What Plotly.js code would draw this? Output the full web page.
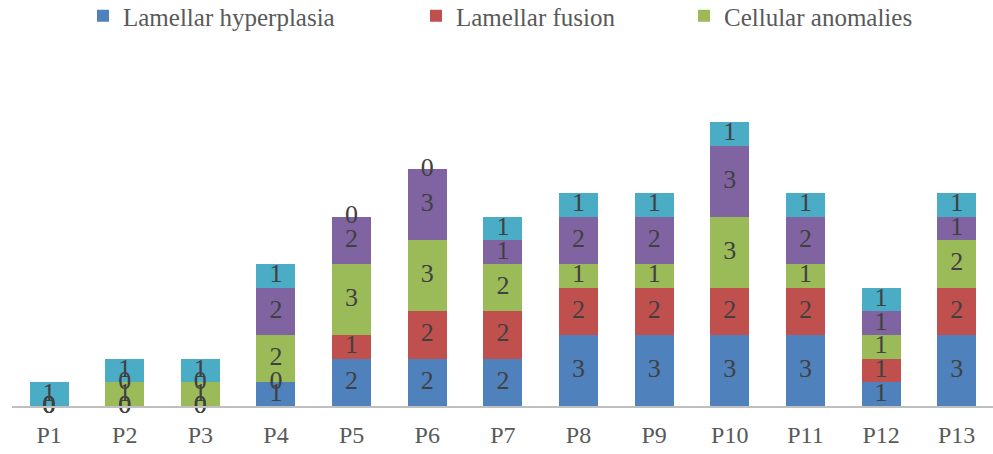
<!DOCTYPE html>
<html>
<head>
<meta charset="utf-8">
<script src="https://cdn.plot.ly/plotly-3.0.1.min.js"></script>
<style>html,body{margin:0;padding:0;background:#fff;}#chart{width:993px;height:454px;}</style>
</head>
<body>
<div id="chart"></div>
<script>
const categories = ["P1","P2","P3","P4","P5","P6","P7","P8","P9","P10","P11","P12","P13"];
const lamellarHyperplasia = [0,0,0,1,2,2,2,3,3,3,3,1,3];
const lamellarFusion      = [0,0,0,0,1,2,2,2,2,2,2,1,2];
const cellularAnomalies   = [0,1,1,2,3,3,2,1,1,3,1,1,2];
const series4             = [0,0,0,2,2,3,1,2,2,3,2,1,1];
const series5             = [1,1,1,1,0,0,1,1,1,1,1,1,1];

const seriesNames = ["Lamellar hyperplasia","Lamellar fusion","Cellular anomalies","Series 4","Series 5"];
const seriesValues = [lamellarHyperplasia, lamellarFusion, cellularAnomalies, series4, series5];
const colors = ["#4F81BD","#C0504D","#9BBB59","#8064A2","#4BACC6"];
const legendIds = ["legend","legend2","legend3",null,null];

const FONT = "Liberation Serif, Times New Roman, serif";
const traces = [];
seriesValues.forEach((vals, i) => {
  const t = {
    type: "bar", x: categories, y: vals, name: seriesNames[i],
    marker: {color: colors[i], line: {width: 0}},
    hoverinfo: "name+y"
  };
  if (legendIds[i]) { t.legend = legendIds[i]; t.showlegend = true; }
  else { t.showlegend = false; }
  traces.push(t);
});

// value labels at the middle of each stacked segment
const lx = [], ly = [], lt = [];
categories.forEach((c, j) => {
  let base = 0;
  seriesValues.forEach(vals => {
    lx.push(c); ly.push(base + vals[j] / 2); lt.push(String(vals[j]));
    base += vals[j];
  });
});
traces.push({
  type: "scatter", mode: "text", x: lx, y: ly, text: lt,
  textposition: "middle center",
  textfont: {family: FONT, size: 26, color: "#404040"},
  showlegend: false, hoverinfo: "skip", cliponaxis: false
});

const legendBase = {
  orientation: "h", xref: "container", yref: "container",
  yanchor: "middle", y: 1 - 16/454, xanchor: "left",
  font: {family: FONT, size: 25, color: "#595959"},
  bgcolor: "rgba(0,0,0,0)", borderwidth: 0
};

const layout = {
  width: 993, height: 454,
  margin: {l: 12, r: 0, t: 28, b: 48},
  paper_bgcolor: "#ffffff", plot_bgcolor: "#ffffff",
  barmode: "stack", bargap: 0.484,
  font: {family: FONT, color: "#595959"},
  xaxis: {
    type: "category", range: [-0.49, 12.48],
    showline: true, linecolor: "#bfbfbf", linewidth: 2,
    ticks: "", showgrid: false, zeroline: false, ticklabelstandoff: 6,
    tickfont: {family: FONT, size: 24, color: "#595959"}
  },
  yaxis: {
    range: [0, 15.5], showticklabels: false, showgrid: false,
    zeroline: false, showline: false, ticks: ""
  },
  legend:  Object.assign({}, legendBase, {x: 83/993}),
  legend2: Object.assign({}, legendBase, {x: 416/993}),
  legend3: Object.assign({}, legendBase, {x: 684/993}),
  showlegend: true
};

Plotly.newPlot("chart", traces, layout, {displayModeBar: false, staticPlot: true});
</script>
</body>
</html>
